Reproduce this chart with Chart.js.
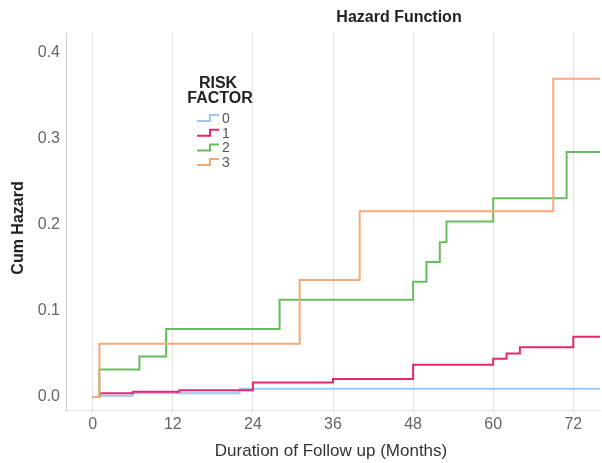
<!DOCTYPE html>
<html>
<head>
<meta charset="utf-8">
<script src="https://cdn.jsdelivr.net/npm/chart.js@4.4.0/dist/chart.umd.min.js"></script>
<style>
  html, body { margin: 0; padding: 0; background: #fff; }
  #wrap { width: 602px; height: 463px; }
</style>
</head>
<body>
<div id="wrap"><canvas id="myChart"></canvas></div>
<script>
const xTicks = [0, 12, 24, 36, 48, 60, 72];
const yTicks = [0, 0.1, 0.2, 0.3, 0.4];
const groups = ["0", "1", "2", "3"];

// cumulative hazard step values (value holds from that month on)
const months0 = [0, 1, 6, 22, 76];
const hazard0 = [0, 0.0015, 0.0045, 0.0097, 0.0097];
const months1 = [0, 1, 6, 13, 24, 36, 48, 60, 62, 64, 72, 76];
const hazard1 = [0, 0.0045, 0.006, 0.0078, 0.017, 0.021, 0.0375, 0.0445, 0.0505, 0.058, 0.070, 0.070];
const months2 = [0, 1, 7, 11, 28, 48, 50, 52, 53, 60, 71, 76];
const hazard2 = [0, 0.032, 0.047, 0.079, 0.113, 0.134, 0.157, 0.180, 0.204, 0.231, 0.285, 0.285];
const months3 = [0, 1, 31, 40, 69, 76];
const hazard3 = [0, 0.062, 0.136, 0.216, 0.370, 0.370];

const colors = ["#9ac8f1", "#e5286f", "#68bc60", "#f8a878"];
const allMonths = [months0, months1, months2, months3];
const allHazard = [hazard0, hazard1, hazard2, hazard3];

const datasets = groups.map((g, i) => ({
  label: g,
  data: allMonths[i].map((m, j) => ({ x: m, y: allHazard[i][j] })),
  borderColor: colors[i],
  borderWidth: 2,
  pointRadius: 0,
  stepped: true,
  fill: false,
  order: groups.length - i
}));

const textPlugin = {
  id: "texts",
  afterDraw(chart) {
    const ctx = chart.ctx;
    ctx.save();
    ctx.fillStyle = "#222";
    ctx.textAlign = "center";
    ctx.textBaseline = "middle";
    ctx.font = "bold 16px 'Liberation Sans', Arial, sans-serif";
    ctx.fillText("Hazard Function", 399, 18);

    ctx.font = "17px 'Liberation Sans', Arial, sans-serif";
    ctx.fillStyle = "#333";
    ctx.fillText("Duration of Follow up (Months)", 331, 451);

    ctx.save();
    ctx.translate(19, 228);
    ctx.rotate(-Math.PI / 2);
    ctx.font = "bold 16px 'Liberation Sans', Arial, sans-serif";
    ctx.fillStyle = "#222";
    ctx.fillText("Cum Hazard", 0, 0);
    ctx.restore();

    // legend
    ctx.font = "bold 16px 'Liberation Sans', Arial, sans-serif";
    ctx.fillStyle = "#222";
    ctx.fillText("RISK", 218, 84);
    ctx.fillText("FACTOR", 220, 99);
    ctx.font = "14px 'Liberation Sans', Arial, sans-serif";
    ctx.textAlign = "left";
    groups.forEach((g, i) => {
      const y = 118 + i * 14.7;
      ctx.strokeStyle = colors[i];
      ctx.lineWidth = 2;
      ctx.beginPath();
      ctx.moveTo(197, y + 3);
      ctx.lineTo(210, y + 3);
      ctx.lineTo(210, y - 3);
      ctx.lineTo(219, y - 3);
      ctx.stroke();
      ctx.fillStyle = "#555";
      ctx.fillText(g, 222, y + 1);
    });
    ctx.restore();
  }
};

new Chart("myChart", {
  type: "line",
  data: { datasets: datasets },
  options: {
    responsive: true,
    maintainAspectRatio: false,
    animation: false,
    layout: { padding: { top: 33, right: 2, left: 0, bottom: 0 } },
    plugins: {
      legend: { display: false },
      tooltip: { enabled: false }
    },
    scales: {
      x: {
        type: "linear",
        min: -4,
        max: 76,
        afterBuildTicks: s => { s.ticks = xTicks.map(v => ({ value: v })); },
        afterFit: s => { s.height = 53; },
        grid: { color: "#e2e2e2", drawTicks: true, tickLength: 3 },
        border: { color: "#e6e6e6" },
        ticks: {
          color: "#666",
          font: { size: 16, family: "'Liberation Sans', Arial, sans-serif" },
          padding: 2,
          maxRotation: 0
        }
      },
      y: {
        type: "linear",
        min: -0.0151,
        max: 0.4233,
        afterBuildTicks: s => { s.ticks = yTicks.map(v => ({ value: v })); },
        afterFit: s => { s.width = 66; },
        grid: { display: false, drawTicks: false },
        border: { color: "#cfcfcf" },
        ticks: {
          color: "#666",
          font: { size: 16, family: "'Liberation Sans', Arial, sans-serif" },
          padding: 6,
          callback: v => v.toFixed(1)
        }
      }
    }
  },
  plugins: [textPlugin]
});
</script>
</body>
</html>
